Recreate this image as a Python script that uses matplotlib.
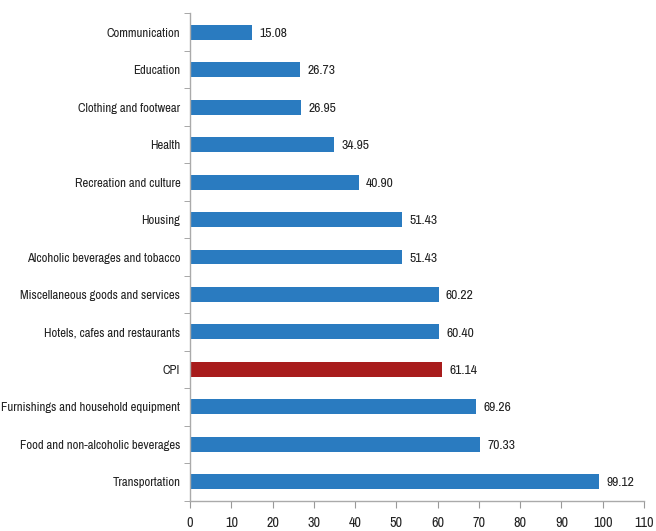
import numpy as np
import matplotlib.pyplot as plt
from matplotlib import font_manager

categories = ['Communication', 'Education', 'Clothing and footwear', 'Health',
              'Recreation and culture', 'Housing', 'Alcoholic beverages and tobacco',
              'Miscellaneous goods and services', 'Hotels, cafes and restaurants', 'CPI',
              'Furnishings and household equipment', 'Food and non-alcoholic beverages',
              'Transportation']
values = [15.08, 26.73, 26.95, 34.95, 40.90, 51.43, 51.43,
          60.22, 60.40, 61.14, 69.26, 70.33, 99.12]
xticks = list(range(0, 111, 10))

# narrow sans face for all labels
names = {f.name for f in font_manager.fontManager.ttflist}
if 'Archivo Narrow' in names:
    plt.rcParams['font.family'] = ['Archivo Narrow', 'DejaVu Sans']
else:
    plt.rcParams['font.family'] = ['DejaVu Sans']
    plt.rcParams['font.stretch'] = 'condensed'

blue = '#2a7bc0'
red = '#a81c1c'
colors = [red if c == 'CPI' else blue for c in categories]
fs = 9.2

fig = plt.figure(figsize=(6.56, 5.31), dpi=100)
ax = fig.add_axes([190/656, 1-500.5/531, 454/656, 487/531])

y = np.arange(len(categories))
ax.barh(y, values, height=0.4, color=colors)
for yi, v in zip(y, values):
    ax.text(v + 1.8, yi + 0.03, f'{v:.2f}', va='center', ha='left', fontsize=fs + 0.6, color='#222222')

ax.set_ylim(len(categories) - 0.5, -0.5)
ax.set_xlim(0, 110)
ax.set_yticks(y)
ax.set_yticklabels(categories, fontsize=fs, color='#222222')
ax.set_yticks(np.arange(-0.5, len(categories), 1), minor=True)
ax.tick_params(axis='y', which='major', length=0, pad=7)
ax.tick_params(axis='y', which='minor', length=4, color='#999999', direction='out')
ax.set_xticks(xticks)
ax.tick_params(axis='x', length=5, color='#999999', labelsize=fs + 1, labelcolor='#222222', pad=6)

for s in ['top', 'right']:
    ax.spines[s].set_visible(False)
for s in ['left', 'bottom']:
    ax.spines[s].set_color('#aaaaaa')
    ax.spines[s].set_linewidth(1)

fig.savefig('out.png', dpi=100)
